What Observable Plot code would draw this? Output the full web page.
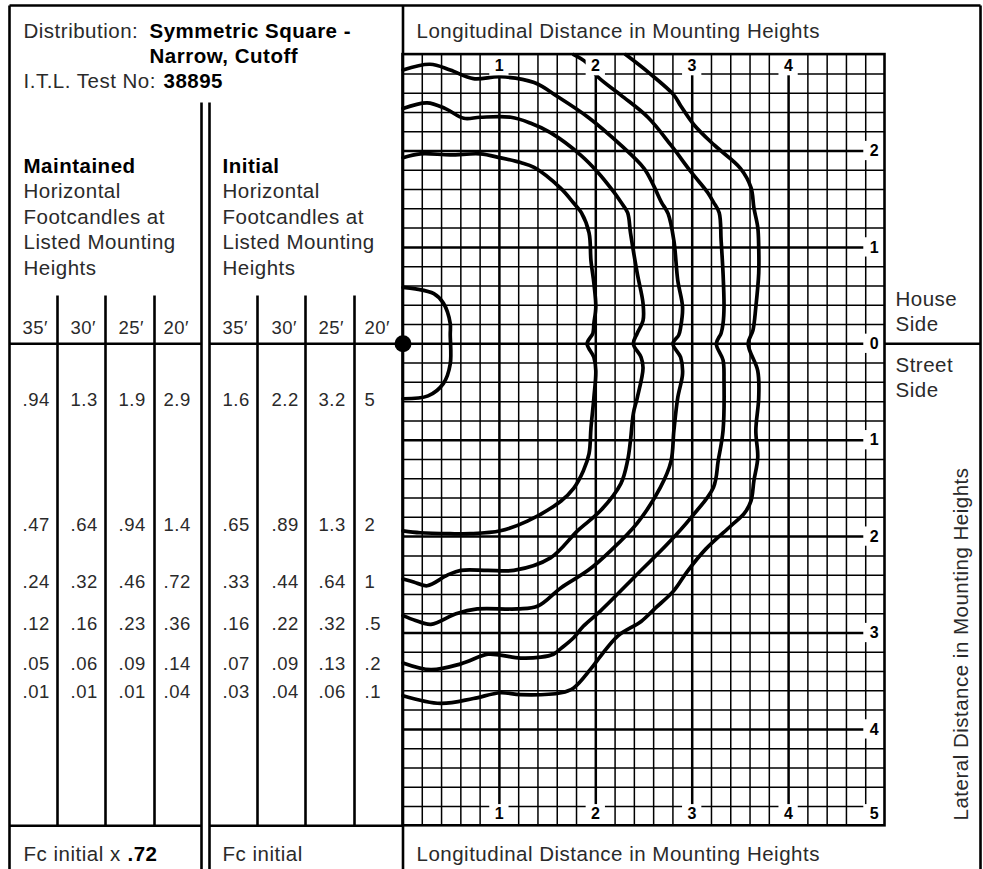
<!DOCTYPE html>
<html><head><meta charset="utf-8">
<script src="https://cdn.jsdelivr.net/npm/d3@7"></script>
<script src="https://cdn.jsdelivr.net/npm/@observablehq/plot@0.6"></script>
<style>
html,body{margin:0;padding:0;background:#fff;}
#chart svg{display:block;letter-spacing:0.5px;}
</style></head><body><div id="chart"></div>
<script>
// ================= DATA =================
// Table: column headings (mounting heights)
const heights = ["35′", "30′", "25′", "20′"];
// Maintained horizontal footcandles (Fc initial x .72)
const maint35 = [0.94, 0.47, 0.24, 0.12, 0.05, 0.01];
const maint30 = [1.3, 0.64, 0.32, 0.16, 0.06, 0.01];
const maint25 = [1.9, 0.94, 0.46, 0.23, 0.09, 0.01];
const maint20 = [2.9, 1.4, 0.72, 0.36, 0.14, 0.04];
// Initial horizontal footcandles
const init35 = [1.6, 0.65, 0.33, 0.16, 0.07, 0.03];
const init30 = [2.2, 0.89, 0.44, 0.22, 0.09, 0.04];
const init25 = [3.2, 1.3, 0.64, 0.32, 0.13, 0.06];
const init20 = [5, 2, 1, 0.5, 0.2, 0.1];
const maintFactor = ".72";
const testNo = "38895";

// Isofootcandle contour levels (initial, 20′) and traced points
// x = longitudinal distance (MH), y = lateral distance (MH, + house side, − street side)
const levels = [5, 2, 1, 0.5, 0.2, 0.1];
const contour5 = [[0,0.585],[0.13,0.57],[0.32,0.52],[0.42,0.42],[0.49,0.21],[0.49,0.10],[0.49,-0.21],[0.42,-0.41],[0.26,-0.54],[0,-0.57]];
const contour2 = [[0,1.93],[0.18,1.97],[0.49,1.96],[0.80,1.97],[1.01,1.93],[1.22,1.88],[1.36,1.83],[1.64,1.61],[1.77,1.46],[1.85,1.36],[1.93,1.15],[1.95,0.86],[1.98,0.63],[2.00,0.38],[1.98,0.21],[1.97,0.11],[1.91,0.00],[1.98,-0.14],[2.00,-0.28],[1.98,-0.56],[1.95,-0.87],[1.93,-1.14],[1.87,-1.32],[1.77,-1.50],[1.64,-1.63],[1.29,-1.84],[1.01,-1.94],[0.70,-1.97],[0.49,-1.97],[0.18,-1.96],[0,-1.94]];
const contour1 = [[0,2.44],[0.25,2.50],[0.44,2.44],[0.63,2.34],[0.80,2.35],[1.12,2.35],[1.32,2.29],[1.53,2.19],[1.84,1.96],[2.02,1.78],[2.19,1.57],[2.26,1.47],[2.33,1.36],[2.36,1.15],[2.43,0.73],[2.49,0.42],[2.49,0.24],[2.43,0.11],[2.39,0.00],[2.47,-0.14],[2.49,-0.25],[2.43,-0.56],[2.39,-0.72],[2.36,-1.00],[2.33,-1.21],[2.26,-1.45],[2.05,-1.73],[1.81,-1.94],[1.53,-2.22],[1.15,-2.35],[0.88,-2.35],[0.60,-2.35],[0.46,-2.40],[0.25,-2.51],[0.11,-2.47],[0,-2.44]];
const contour05 = [[0,2.84],[0.28,2.90],[0.49,2.84],[0.73,2.75],[1.01,2.77],[1.36,2.71],[1.61,2.56],[1.92,2.35],[2.26,2.06],[2.50,1.82],[2.60,1.64],[2.68,1.47],[2.75,1.35],[2.81,1.07],[2.85,0.66],[2.90,0.38],[2.88,0.17],[2.86,0.09],[2.80,0.00],[2.88,-0.14],[2.90,-0.31],[2.85,-0.56],[2.81,-0.90],[2.78,-1.22],[2.67,-1.49],[2.43,-1.86],[2.15,-2.15],[1.92,-2.35],[1.64,-2.53],[1.40,-2.72],[1.19,-2.75],[0.77,-2.75],[0.55,-2.80],[0.29,-2.91],[0.13,-2.87],[0,-2.82]];
const contour02 = [[1.77,3.0],[1.90,2.92],[2.02,2.77],[2.26,2.58],[2.54,2.35],[2.78,2.06],[2.99,1.78],[3.16,1.57],[3.22,1.47],[3.28,1.36],[3.30,1.07],[3.32,0.73],[3.33,0.38],[3.32,0.21],[3.30,0.11],[3.25,0.00],[3.32,-0.17],[3.33,-0.38],[3.32,-0.90],[3.27,-1.21],[3.22,-1.49],[2.99,-1.80],[2.75,-2.07],[2.44,-2.38],[2.05,-2.77],[1.87,-2.93],[1.77,-3.05],[1.64,-3.16],[1.56,-3.22],[1.43,-3.25],[1.22,-3.26],[1.01,-3.23],[0.88,-3.22],[0.60,-3.32],[0.29,-3.38],[0,-3.31]];
const contour01 = [[2.31,3.0],[2.54,2.82],[2.81,2.58],[2.88,2.47],[3.02,2.27],[3.23,2.06],[3.50,1.82],[3.61,1.62],[3.64,1.41],[3.68,1.21],[3.69,1.00],[3.69,0.73],[3.66,0.38],[3.63,0.14],[3.58,0.00],[3.68,-0.28],[3.69,-0.56],[3.66,-0.90],[3.68,-1.18],[3.64,-1.42],[3.61,-1.63],[3.54,-1.76],[3.40,-1.89],[3.14,-2.13],[2.95,-2.36],[2.81,-2.56],[2.62,-2.74],[2.47,-2.88],[2.23,-3.03],[2.05,-3.24],[1.95,-3.37],[1.77,-3.57],[1.64,-3.62],[1.22,-3.64],[1.01,-3.62],[0.73,-3.68],[0.39,-3.73],[0,-3.65]];

// Axis tick labels (mounting heights)
const longTicks = [1, 2, 3, 4];
const latTicks = [2, 1, 0, -1, -2, -3, -4];
const cornerTick = "5";

// ================= LAYOUT =================
const W = 983, H = 869;
const U = 96.4, X0 = 402.5, Y0 = 343.3;        // pixel origin & unit of the grid
const ux = p => (p - X0) / U, uy = p => (Y0 - p) / U;
const GX = [0, 5], GY = [-5, 3];                  // grid extent
const colTextX = [22, 70, 118, 163, 222, 271, 318, 364];
const rowBase = [405, 530, 587, 629, 669, 697];
const FONT = "'Liberation Sans', Arial, Helvetica, sans-serif";
const INK = "#2a2a2a";

const fmt = v => { const s = String(v); return s.startsWith("0.") ? s.slice(1) : s; };
const columns = [maint35, maint30, maint25, maint20, init35, init30, init25, init20];
const cells = columns.flatMap((col, c) => col.map((v, r) => ({x: ux(colTextX[c]), y: uy(rowBase[r]), t: fmt(v)})));
const headerCells = [...heights, ...heights].map((h, c) => ({x: ux(colTextX[c]), y: uy(333), t: h}));

const contours = [contour5, contour2, contour1, contour05, contour02, contour01];
const contourPts = contours.flatMap((c, k) => c.map(([x, y], i) => ({level: levels[k], x, y, i})));

const minorX = d3.range(1, 25).filter(i => i % 5).map(i => i / 5);
const minorY = d3.range(-24, 15).filter(i => i % 5).map(i => i / 5);
const majorX = longTicks;
const majorY = latTicks;

// label knock-out boxes
const boxes = [
  ...longTicks.map(k => ({x1: k - 0.1, x2: k + 0.1, y1: 2.78, y2: 3})),
  ...longTicks.map(k => ({x1: k - 0.1, x2: k + 0.1, y1: -5, y2: -4.78})),
  ...latTicks.map(k => ({x1: 4.78, x2: 5, y1: k - 0.1, y2: k + 0.1})),
  {x1: 4.78, x2: 5, y1: -5, y2: -4.78}
];
const tickLabels = [
  ...longTicks.map(k => ({x: k, y: 2.88, t: String(k)})),
  ...longTicks.map(k => ({x: k, y: -4.88, t: String(k)})),
  ...latTicks.map(k => ({x: 4.89, y: k, t: String(Math.abs(k))})),
  {x: 4.89, y: -4.88, t: cornerTick}
];

// frame / table rules, in pixel layout
const segs = [
  [9, 5, 980, 5], [9, 5, 9, H], [980, 5, 980, H], [X0, 5, X0, H],
  [884.5, Y0, 980, Y0],
  [9, Y0, 201, Y0], [209, Y0, X0, Y0], [9, 825.3, 201, 825.3], [209, 825.3, X0, 825.3],
  [201, 102, 201, H], [209, 102, 209, H],
  ...[57, 105, 154, 257, 305, 354].map(x => [x, 295, x, 825.3])
].map(([a, b, c, d]) => ({x1: ux(a), y1: uy(b), x2: ux(c), y2: uy(d)}));

const texts = [
  {t: "Distribution:", x: 23, y: 37},
  {t: "Symmetric Square -", x: 149, y: 37, b: 1},
  {t: "Narrow, Cutoff", x: 149, y: 62, b: 1},
  {t: "I.T.L. Test No:", x: 23, y: 87},
  {t: testNo, x: 163, y: 87, b: 1},
  {t: "Maintained", x: 23, y: 172, b: 1},
  {t: "Horizontal", x: 23, y: 197}, {t: "Footcandles at", x: 23, y: 223},
  {t: "Listed Mounting", x: 23, y: 248}, {t: "Heights", x: 23, y: 274},
  {t: "Initial", x: 222, y: 172, b: 1},
  {t: "Horizontal", x: 222, y: 197}, {t: "Footcandles at", x: 222, y: 223},
  {t: "Listed Mounting", x: 222, y: 248}, {t: "Heights", x: 222, y: 274},
  {t: "Fc initial x", x: 23, y: 860}, {t: maintFactor, x: 127, y: 860, b: 1},
  {t: "Fc initial", x: 222, y: 860},
  {t: "Longitudinal Distance in Mounting Heights", x: 416, y: 37},
  {t: "Longitudinal Distance in Mounting Heights", x: 416, y: 860},
  {t: "House", x: 895, y: 305.5}, {t: "Side", x: 895, y: 330},
  {t: "Street", x: 895, y: 371.5}, {t: "Side", x: 895, y: 396.5}
].map(d => ({...d, x: ux(d.x), y: uy(d.y)}));

const chart = Plot.plot({
  width: W, height: H, margin: 0,
  x: {domain: [ux(0), ux(W)], range: [0, W], axis: null},
  y: {domain: [uy(H), uy(0)], range: [H, 0], axis: null},
  style: {fontFamily: FONT, background: "#fff", color: "#000"},
  marks: [
    Plot.ruleX(minorX, {x: d => d, y1: GY[0], y2: GY[1], stroke: "#000", strokeWidth: 1.5}),
    Plot.ruleY(minorY, {y: d => d, x1: GX[0], x2: GX[1], stroke: "#000", strokeWidth: 1.5}),
    Plot.ruleX(majorX, {x: d => d, y1: GY[0], y2: GY[1], stroke: "#000", strokeWidth: 2.5}),
    Plot.ruleY(majorY, {y: d => d, x1: GX[0], x2: GX[1], stroke: "#000", strokeWidth: 2.5}),
    Plot.line(contourPts, {x: "x", y: "y", z: "level", curve: "catmull-rom", stroke: "#000", strokeWidth: 3.7}),
    Plot.rect(boxes, {x1: "x1", x2: "x2", y1: "y1", y2: "y2", fill: "#fff"}),
    Plot.text(tickLabels, {x: "x", y: "y", text: "t", fontSize: 16, fontWeight: "bold", fill: "#000", textAnchor: "middle"}),
    Plot.rect([{}], {x1: () => GX[0], x2: () => GX[1], y1: () => GY[0], y2: () => GY[1], fill: "none", stroke: "#000", strokeWidth: 2.6}),
    Plot.link(segs, {x1: "x1", y1: "y1", x2: "x2", y2: "y2", stroke: "#000", strokeWidth: 2.6}),
    Plot.dot([{x: 0, y: 0}], {x: "x", y: "y", r: 8.5, fill: "#000", stroke: "none"}),
    Plot.text(texts.filter(d => !d.b), {x: "x", y: "y", text: "t", fontSize: 20.5, fill: INK, textAnchor: "start", lineAnchor: "bottom"}),
    Plot.text(texts.filter(d => d.b), {x: "x", y: "y", text: "t", fontSize: 20.5, fontWeight: "bold", fill: "#000", textAnchor: "start", lineAnchor: "bottom"}),
    Plot.text(headerCells, {x: "x", y: "y", text: "t", fontSize: 18.5, fill: INK, textAnchor: "start", lineAnchor: "bottom"}),
    Plot.text(cells, {x: "x", y: "y", text: "t", fontSize: 18.5, fill: INK, textAnchor: "start", lineAnchor: "bottom"}),
    Plot.text(["Lateral Distance in Mounting Heights"], {x: () => ux(967), y: () => uy(820), text: d => d, rotate: -90, fontSize: 20.5, fill: INK, textAnchor: "start", lineAnchor: "bottom"})
  ]
});
document.getElementById("chart").append(chart);
</script></body></html>
